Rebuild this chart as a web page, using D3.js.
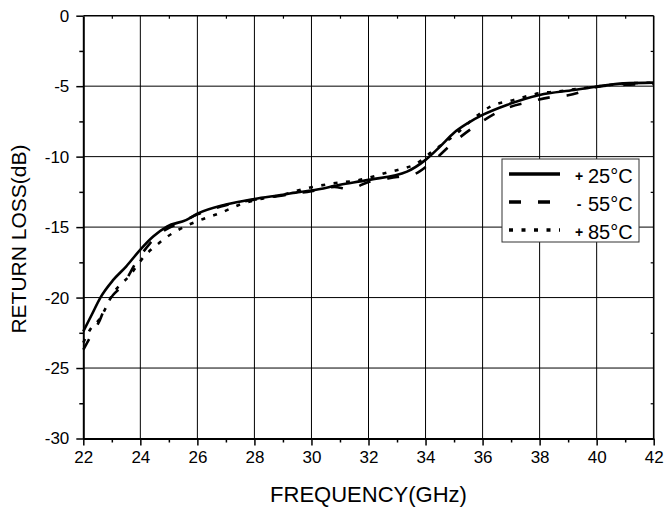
<!DOCTYPE html>
<html>
<head>
<meta charset="utf-8">
<script src="https://cdn.jsdelivr.net/npm/d3@7"></script>
<style>
  html, body { margin: 0; padding: 0; background: #fff; }
  svg { display: block; font-family: "Liberation Sans", Arial, Helvetica, sans-serif; }
  svg text { fill: #000; }
  .tick text { font-size: 17px; font-family: "Liberation Sans", Arial, Helvetica, sans-serif; }
</style>
</head>
<body>
<div id="chart"></div>
<script>
// Return loss vs frequency at three temperatures
const freq25 = [22, 22.3, 22.6, 23.05, 23.5, 24, 24.45, 24.93, 25.6, 26, 27, 28, 29, 29.6, 30, 31, 32, 33.35, 34, 34.5, 35, 35.5, 36, 36.85, 38, 39.2, 40, 40.95, 42];
const rl25 = [-22.4, -21.2, -20.0, -18.75, -17.8, -16.6, -15.67, -14.96, -14.5, -14.05, -13.4, -13.0, -12.7, -12.5, -12.4, -12.0, -11.65, -11.06, -10.23, -9.3, -8.3, -7.6, -7.04, -6.33, -5.62, -5.27, -5.03, -4.8, -4.75];

const freq55 = [22, 22.3, 22.58, 22.76, 23.05, 23.35, 23.87, 24.34, 24.8, 25.5, 26, 27, 28, 29, 30, 30.8, 31.3, 32, 33, 33.6, 34.17, 34.98, 35.8, 36.68, 37.68, 38.5, 39.0, 39.66, 40, 41, 42];
const rl55 = [-23.7, -22.6, -21.6, -20.7, -19.8, -19.2, -17.45, -16.15, -15.3, -14.6, -14.1, -13.45, -13.05, -12.75, -12.45, -12.15, -12.3, -11.8, -11.45, -11.25, -10.47, -9.0, -7.75, -6.69, -6.1, -5.75, -5.65, -5.27, -5.05, -4.9, -4.85];

const freq85 = [22, 22.23, 22.58, 23.05, 23.64, 24.17, 24.58, 24.93, 25.33, 26.1, 26.8, 27.5, 28, 29, 29.84, 30.77, 31.7, 32.65, 33.1, 33.58, 34.28, 35.1, 35.68, 36.27, 37.09, 38, 38.6, 39.3, 40, 41, 42];
const rl85 = [-23.2, -22.3, -21.5, -19.7, -18.4, -17.0, -16.26, -15.7, -15.2, -14.5, -14.0, -13.4, -13.1, -12.7, -12.24, -11.9, -11.65, -11.13, -10.9, -10.6, -9.57, -8.34, -7.3, -6.45, -5.98, -5.5, -5.39, -5.2, -5.02, -4.82, -4.75];

const seriesNames = ["25°C", "55°C", "85°C"];
const seriesSigns = ["+", "-", "+"];
const xTicks = [22, 24, 26, 28, 30, 32, 34, 36, 38, 40, 42];
const yTicks = [0, -5, -10, -15, -20, -25, -30];

const config = {
  width: 664,
  height: 510,
  margin: { top: 15.7, right: 10.3, bottom: 71.5, left: 83.3 }
};

const innerW = config.width - config.margin.left - config.margin.right;
const innerH = config.height - config.margin.top - config.margin.bottom;

const series = [
  { name: seriesNames[0], sign: seriesSigns[0], dash: null, values: freq25.map((f, i) => ({ f: f, v: rl25[i] })) },
  { name: seriesNames[1], sign: seriesSigns[1], dash: "12,17", values: freq55.map((f, i) => ({ f: f, v: rl55[i] })) },
  { name: seriesNames[2], sign: seriesSigns[2], dash: "4,8.5", values: freq85.map((f, i) => ({ f: f, v: rl85[i] })) }
];

const svg = d3.select("#chart").append("svg")
  .attr("width", config.width)
  .attr("height", config.height);

const chart = svg.append("g")
  .attr("transform", `translate(${config.margin.left},${config.margin.top})`);

const x = d3.scaleLinear().domain([22, 42]).range([0, innerW]);
const y = d3.scaleLinear().domain([-30, 0]).range([innerH, 0]);

// grid lines at the major ticks
chart.append("g")
  .selectAll("line.vgrid")
  .data(xTicks.slice(1, -1))
  .join("line")
  .attr("x1", d => x(d)).attr("x2", d => x(d))
  .attr("y1", 0).attr("y2", innerH)
  .attr("stroke", "#000").attr("stroke-width", 1);

chart.append("g")
  .selectAll("line.hgrid")
  .data(yTicks.slice(1, -1))
  .join("line")
  .attr("y1", d => y(d)).attr("y2", d => y(d))
  .attr("x1", 0).attr("x2", innerW)
  .attr("stroke", "#000").attr("stroke-width", 1);

// minor ticks (every 1 GHz / 2.5 dB)
const xMinor = d3.range(23, 42, 2);
const yMinor = d3.range(-27.5, 0, 5);

chart.append("g")
  .attr("transform", `translate(0,${innerH})`)
  .call(d3.axisBottom(x).tickValues(xMinor).tickSize(4).tickFormat(""))
  .call(g => g.select(".domain").remove())
  .selectAll("line").attr("stroke-width", 1.5);

chart.append("g")
  .call(d3.axisLeft(y).tickValues(yMinor).tickSize(4).tickFormat(""))
  .call(g => g.select(".domain").remove())
  .selectAll("line").attr("stroke-width", 1.5);

chart.append("g")
  .call(d3.axisTop(x).tickValues(xMinor).tickSize(-3).tickFormat(""))
  .call(g => g.select(".domain").remove())
  .selectAll("line").attr("stroke-width", 1.2);

chart.append("g")
  .attr("transform", `translate(${innerW},0)`)
  .call(d3.axisRight(y).tickValues(yMinor).tickSize(-3).tickFormat(""))
  .call(g => g.select(".domain").remove())
  .selectAll("line").attr("stroke-width", 1.2);

// major axes
const xAxis = chart.append("g")
  .attr("transform", `translate(0,${innerH})`)
  .call(d3.axisBottom(x).tickValues(xTicks).tickSize(7).tickSizeOuter(0).tickPadding(5).tickFormat(d => String(d)));
xAxis.selectAll("line").attr("stroke-width", 1.5);
xAxis.select(".domain").attr("stroke-width", 2);

const yAxis = chart.append("g")
  .call(d3.axisLeft(y).tickValues(yTicks).tickSize(7).tickSizeOuter(0).tickPadding(7).tickFormat(d => String(d)));
yAxis.selectAll("line").attr("stroke-width", 1.5);
yAxis.select(".domain").attr("stroke-width", 2);

// top and right frame
chart.append("line")
  .attr("x1", 0).attr("x2", innerW).attr("y1", 0).attr("y2", 0)
  .attr("stroke", "#000").attr("stroke-width", 1.6);
chart.append("line")
  .attr("x1", innerW).attr("x2", innerW).attr("y1", 0).attr("y2", innerH)
  .attr("stroke", "#000").attr("stroke-width", 1.6);

// curves
const line = d3.line()
  .x(d => x(d.f))
  .y(d => y(d.v))
  .curve(d3.curveMonotoneX);

chart.append("g")
  .selectAll("path.curve")
  .data(series)
  .join("path")
  .attr("class", "curve")
  .attr("d", d => line(d.values))
  .attr("fill", "none")
  .attr("stroke", "#000")
  .attr("stroke-width", 2.6)
  .attr("stroke-dasharray", d => d.dash);

// legend
const legend = svg.append("g").attr("transform", "translate(502,159)");

legend.append("rect")
  .attr("width", 137).attr("height", 83)
  .attr("fill", "#fff")
  .attr("stroke", "#333").attr("stroke-width", 1);

const rows = legend.selectAll("g.row")
  .data(series)
  .join("g")
  .attr("class", "row")
  .attr("transform", (d, i) => `translate(0,${15 + i * 28})`);

rows.append("line")
  .attr("x1", 7).attr("x2", 58)
  .attr("stroke", "#000").attr("stroke-width", 3.5)
  .attr("stroke-dasharray", d => d.dash);

rows.append("text")
  .attr("x", 77).attr("y", 6.5)
  .attr("text-anchor", "middle")
  .style("font-size", "14px")
  .style("font-weight", "bold")
  .text(d => d.sign);

rows.append("text")
  .attr("x", 86).attr("y", 9)
  .style("font-size", "20px")
  .text(d => d.name);

// axis titles
svg.append("text")
  .attr("x", config.margin.left + innerW / 2)
  .attr("y", 502)
  .attr("text-anchor", "middle")
  .style("font-size", "22px")
  .text("FREQUENCY(GHz)");

svg.append("text")
  .attr("transform", `translate(26,${config.margin.top + innerH / 2 + 12}) rotate(-90)`)
  .attr("text-anchor", "middle")
  .style("font-size", "21px")
  .text("RETURN LOSS(dB)");
</script>
</body>
</html>
